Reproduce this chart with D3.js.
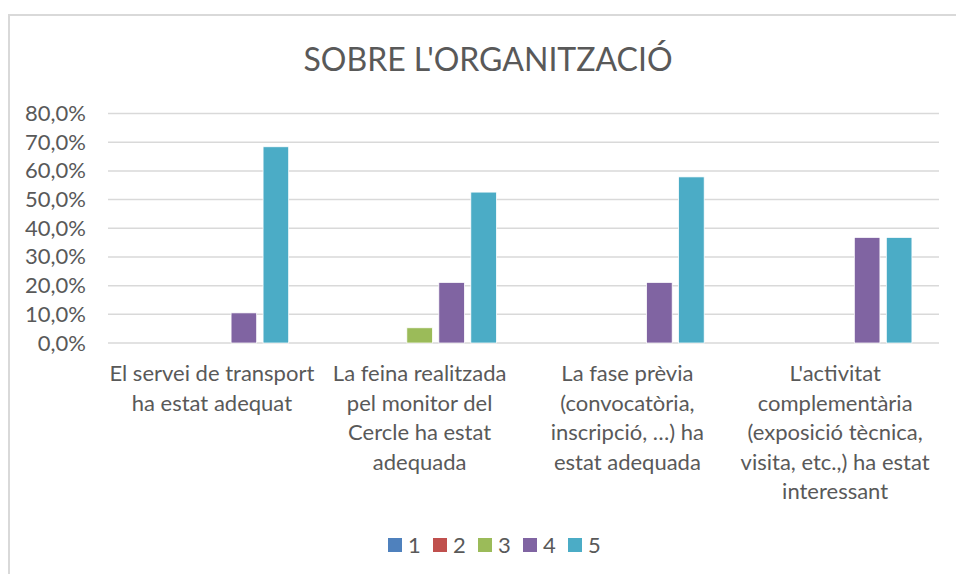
<!DOCTYPE html>
<html>
<head>
<meta charset="utf-8">
<script src="https://cdn.jsdelivr.net/npm/d3@7"></script>
<style>
  body { margin: 0; background: #fff; }
  text { font-family: Lato, "Open Sans", sans-serif; fill: #595959; }
</style>
</head>
<body>
<div id="chart"></div>
<script>
// ___________________________Data_______________________________
var categories = [
    ["El servei de transport", "ha estat adequat"],
    ["La feina realitzada", "pel monitor del", "Cercle ha estat", "adequada"],
    ["La fase prèvia", "(convocatòria,", "inscripció, …) ha", "estat adequada"],
    ["L'activitat", "complementària", "(exposició tècnica,", "visita, etc.,) ha estat", "interessant"]
];
var seriesNames = ["1", "2", "3", "4", "5"];
var seriesColors = ["#4F81BD", "#C0504D", "#9BBB59", "#8064A2", "#4BACC6"];
// percent per category, one value per series 1..5
var values1 = [0, 0, 0, 10.5, 68.4];
var values2 = [0, 0, 5.3, 21.1, 52.6];
var values3 = [0, 0, 0, 21.1, 57.9];
var values4 = [0, 0, 0, 36.8, 36.8];
var yTicks = [0, 10, 20, 30, 40, 50, 60, 70, 80];

var allValues = [values1, values2, values3, values4];

const width = 956;
const height = 574;
const plot = { left: 108, right: 939, top: 113.5, bottom: 343 };

const svg = d3.select("#chart")
    .append("svg")
    .attr("width", width)
    .attr("height", height);

// chart border (only top and left visible)
svg.append("path")
    .attr("d", "M9,574 V15 H956")
    .attr("fill", "none")
    .attr("stroke", "#d9d9d9")
    .attr("stroke-width", 2);

// title
svg.append("text")
    .attr("x", 488)
    .attr("y", 71)
    .attr("text-anchor", "middle")
    .style("font-size", "32px")
    .text("SOBRE L'ORGANITZACIÓ");

const catIds = categories.map((c, i) => i);

const xScale = d3.scaleBand()
    .domain(catIds)
    .range([plot.left, plot.right])
    .padding(0);

const groupSpan = 160;
const xInner = d3.scaleBand()
    .domain(seriesNames)
    .range([(xScale.bandwidth() - groupSpan) / 2, (xScale.bandwidth() + groupSpan) / 2])
    .paddingInner(0.2)
    .paddingOuter(0.1);

const yScale = d3.scaleLinear()
    .domain([0, 80])
    .range([plot.bottom, plot.top]);

// gridlines
svg.append("g")
    .selectAll("line")
    .data(yTicks)
    .enter()
    .append("line")
    .attr("x1", plot.left)
    .attr("x2", plot.right)
    .attr("y1", d => yScale(d))
    .attr("y2", d => yScale(d))
    .attr("stroke", "#d9d9d9")
    .attr("stroke-width", 1.5);

// y axis labels
const yAxis = d3.axisLeft(yScale)
    .tickValues(yTicks)
    .tickSize(0)
    .tickPadding(0)
    .tickFormat(d => d3.format(".1f")(d).replace(".", ",") + "%");

svg.append("g")
    .attr("transform", `translate(86,0)`)
    .call(yAxis)
    .call(g => g.select(".domain").remove())
    .selectAll("text")
    .style("font-size", "22px")
    .style("font-family", null)
    .attr("fill", null);

// bars
const groups = svg.selectAll(".group")
    .data(allValues)
    .enter()
    .append("g")
    .attr("class", "group")
    .attr("transform", (d, i) => `translate(${xScale(i)},0)`);

groups.selectAll("rect")
    .data(d => d.map((v, j) => ({ series: seriesNames[j], value: v, color: seriesColors[j] })))
    .enter()
    .filter(d => d.value > 0)
    .append("rect")
    .attr("x", d => xInner(d.series))
    .attr("width", xInner.bandwidth())
    .attr("y", d => yScale(d.value))
    .attr("height", d => yScale(0) - yScale(d.value))
    .attr("fill", d => d.color)
    .attr("stroke", "#fff")
    .attr("stroke-width", 0.75);

// category labels
const lineHeight = 29.5;
svg.selectAll(".cat-label")
    .data(categories)
    .enter()
    .append("text")
    .attr("class", "cat-label")
    .attr("text-anchor", "middle")
    .style("font-size", "22px")
    .attr("x", (d, i) => xScale(i) + xScale.bandwidth() / 2)
    .attr("y", 381)
    .selectAll("tspan")
    .data(d => d)
    .enter()
    .append("tspan")
    .attr("x", function () { return this.parentNode.getAttribute("x"); })
    .attr("dy", (d, i) => i === 0 ? 0 : lineHeight)
    .text(d => d);

// legend
const legend = svg.append("g")
    .selectAll("g")
    .data(seriesNames)
    .enter()
    .append("g")
    .attr("transform", (d, i) => `translate(${388 + i * 45},538)`);

legend.append("rect")
    .attr("width", 14)
    .attr("height", 14)
    .attr("fill", (d, i) => seriesColors[i]);

legend.append("text")
    .attr("x", 20)
    .attr("y", 15)
    .style("font-size", "22px")
    .text(d => d);
</script>
</body>
</html>
